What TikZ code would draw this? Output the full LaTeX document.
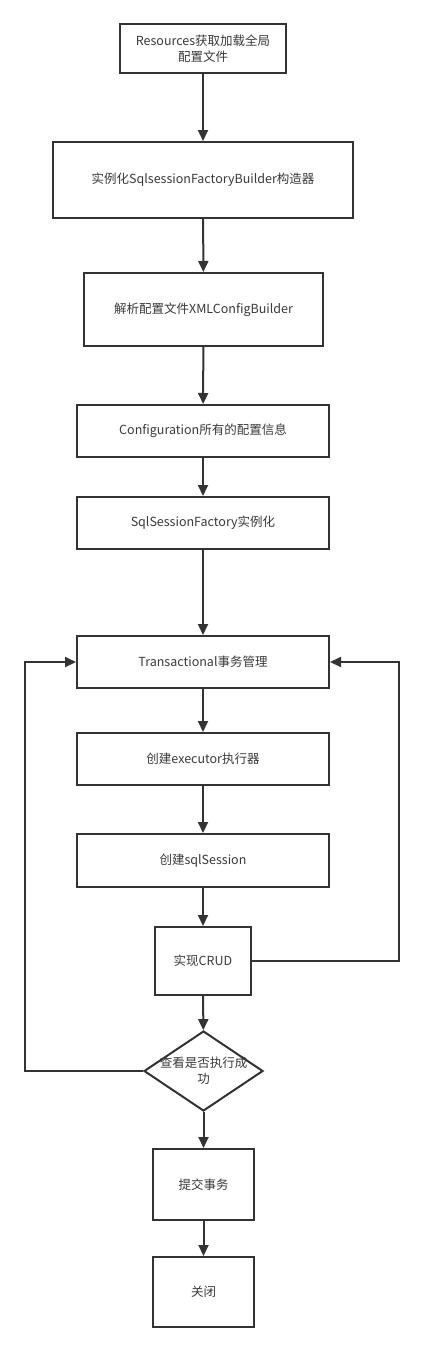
\documentclass[tikz,border=0pt]{standalone}
\usepackage{fontspec}
\setmainfont{Noto Sans CJK SC}
\usetikzlibrary{arrows.meta, shapes.geometric}
\definecolor{linegray}{HTML}{333333}
\definecolor{textgray}{HTML}{3A3A3A}
\tikzset{
  stepbox/.style={draw=linegray, line width=2pt, fill=white, text=textgray,
    font=\fontsize{12.5}{16}\selectfont, align=center, inner sep=0pt},
  chkbox/.style={draw=linegray, line width=2pt, fill=white, diamond, inner sep=0pt,
    minimum width=119pt, minimum height=80pt},
  flow/.style={draw=linegray, line width=2pt, -{Triangle[length=11pt, width=10pt]}},
  loop/.style={flow, rounded corners=0pt}
}
\begin{document}
\begin{tikzpicture}[x=1pt, y=-1pt]
        \useasboundingbox (0,0) rectangle (424,1352);
        \node[stepbox, minimum width=166pt, minimum height=49pt] (res) at (203,48.5) {Resources获取加载全局\\配置文件};
        \node[stepbox, minimum width=300pt, minimum height=76pt] (bld) at (203,180) {实例化SqlsessionFactoryBuilder构造器};
        \node[stepbox, minimum width=239pt, minimum height=73pt] (xml) at (203.5,309.5) {解析配置文件XMLConfigBuilder};
        \node[stepbox, minimum width=252pt, minimum height=52pt] (cfg) at (203,431) {Configuration所有的配置信息};
        \node[stepbox, minimum width=252pt, minimum height=52pt] (fac) at (203,523) {SqlSessionFactory实例化};
        \node[stepbox, minimum width=252pt, minimum height=52pt] (txn) at (203,662) {Transactional事务管理};
        \node[stepbox, minimum width=252pt, minimum height=52pt] (exe) at (203,759) {创建executor执行器};
        \node[stepbox, minimum width=252pt, minimum height=53pt] (ses) at (203,860.5) {创建sqlSession};
        \node[stepbox, minimum width=96pt, minimum height=68pt] (crud) at (203,961) {实现CRUD};
        \node[chkbox] (chk) at (203.5,1071) {};
        \node[stepbox, draw=none, fill=none] (chktxt) at (203.5,1071) {查看是否执行成\\功};
        \node[stepbox, minimum width=101pt, minimum height=71pt] (cmt) at (203.5,1184.5) {提交事务};
        \node[stepbox, minimum width=101pt, minimum height=70pt] (cls) at (203.5,1292) {关闭};
        % main flow
        \draw[flow] (res) -- (bld);
        \draw[flow] (bld) -- (xml);
        \draw[flow] (xml) -- (cfg);
        \draw[flow] (cfg) -- (fac);
        \draw[flow] (fac) -- (txn);
        \draw[flow] (txn) -- (exe);
        \draw[flow] (exe) -- (ses);
        \draw[flow] (ses) -- (crud);
        \draw[flow] (crud) -- (chk);
        \draw[flow] (chk) -- (cmt);
        \draw[flow] (cmt) -- (cls);
        % back loops
        \coordinate (lp) at (25,662);
        \coordinate (rp) at (399,662);
        \draw[loop] (chk.west) -| (lp) -- (txn.west);
        \draw[loop] (crud.east) -| (rp) -- (txn.east);
      \end{tikzpicture}
\end{document}
